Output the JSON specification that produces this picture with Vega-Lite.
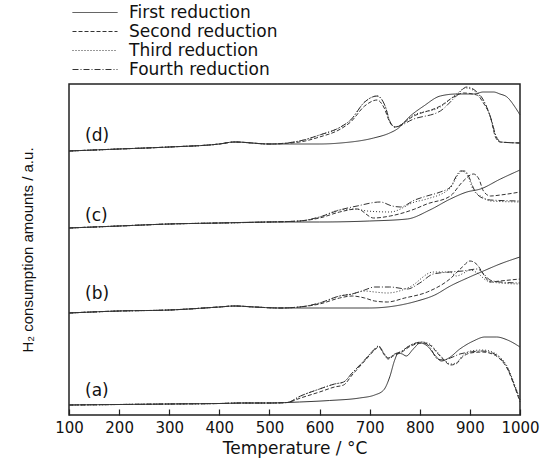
{
"$schema":"https://vega.github.io/schema/vega-lite/v6.json",
"width":451,"height":331,
"autosize":"none",
"padding":{"left":69,"top":84,"right":29,"bottom":44},
"config":{"view":{"stroke":"#222","strokeWidth":1.5},"font":"DejaVu Sans"},
"data":{"values":[
{"p":"a","s":"First","T":100,"v":10},{"p":"a","s":"First","T":200,"v":10.5},{"p":"a","s":"First","T":300,"v":11},{"p":"a","s":"First","T":400,"v":11.5},{"p":"a","s":"First","T":450,"v":12},{"p":"a","s":"First","T":500,"v":12},{"p":"a","s":"First","T":560,"v":13},{"p":"a","s":"First","T":620,"v":14.5},{"p":"a","s":"First","T":680,"v":17},{"p":"a","s":"First","T":710,"v":20},{"p":"a","s":"First","T":728,"v":25},{"p":"a","s":"First","T":740,"v":38},{"p":"a","s":"First","T":750,"v":55},{"p":"a","s":"First","T":757,"v":62},{"p":"a","s":"First","T":765,"v":61},{"p":"a","s":"First","T":773,"v":59},{"p":"a","s":"First","T":787,"v":66},{"p":"a","s":"First","T":801,"v":72},{"p":"a","s":"First","T":815,"v":69},{"p":"a","s":"First","T":830,"v":60},{"p":"a","s":"First","T":843,"v":54},{"p":"a","s":"First","T":858,"v":57},{"p":"a","s":"First","T":880,"v":66},{"p":"a","s":"First","T":907,"v":74},{"p":"a","s":"First","T":930,"v":78},{"p":"a","s":"First","T":953,"v":78},{"p":"a","s":"First","T":975,"v":75},{"p":"a","s":"First","T":1000,"v":68},
{"p":"a","s":"Second","T":100,"v":10},{"p":"a","s":"Second","T":200,"v":10.5},{"p":"a","s":"Second","T":300,"v":11},{"p":"a","s":"Second","T":400,"v":11.5},{"p":"a","s":"Second","T":450,"v":12},{"p":"a","s":"Second","T":500,"v":12},{"p":"a","s":"Second","T":535,"v":12.5},{"p":"a","s":"Second","T":562,"v":17},{"p":"a","s":"Second","T":600,"v":23},{"p":"a","s":"Second","T":630,"v":28},{"p":"a","s":"Second","T":648,"v":30},{"p":"a","s":"Second","T":665,"v":40},{"p":"a","s":"Second","T":690,"v":54},{"p":"a","s":"Second","T":708,"v":64},{"p":"a","s":"Second","T":718,"v":68},{"p":"a","s":"Second","T":728,"v":61},{"p":"a","s":"Second","T":737,"v":56},{"p":"a","s":"Second","T":750,"v":60},{"p":"a","s":"Second","T":761,"v":62},{"p":"a","s":"Second","T":782,"v":69},{"p":"a","s":"Second","T":805,"v":72},{"p":"a","s":"Second","T":820,"v":70},{"p":"a","s":"Second","T":835,"v":62},{"p":"a","s":"Second","T":848,"v":55},{"p":"a","s":"Second","T":861,"v":50},{"p":"a","s":"Second","T":872,"v":51},{"p":"a","s":"Second","T":885,"v":58},{"p":"a","s":"Second","T":901,"v":62},{"p":"a","s":"Second","T":925,"v":63},{"p":"a","s":"Second","T":945,"v":61},{"p":"a","s":"Second","T":960,"v":56},{"p":"a","s":"Second","T":975,"v":46},{"p":"a","s":"Second","T":988,"v":30},{"p":"a","s":"Second","T":1000,"v":13},
{"p":"a","s":"Third","T":100,"v":10},{"p":"a","s":"Third","T":200,"v":10.5},{"p":"a","s":"Third","T":300,"v":11},{"p":"a","s":"Third","T":400,"v":11.5},{"p":"a","s":"Third","T":450,"v":12},{"p":"a","s":"Third","T":500,"v":12},{"p":"a","s":"Third","T":535,"v":12.5},{"p":"a","s":"Third","T":562,"v":19},{"p":"a","s":"Third","T":600,"v":26},{"p":"a","s":"Third","T":630,"v":31},{"p":"a","s":"Third","T":648,"v":33},{"p":"a","s":"Third","T":665,"v":42},{"p":"a","s":"Third","T":690,"v":55},{"p":"a","s":"Third","T":708,"v":65},{"p":"a","s":"Third","T":718,"v":69},{"p":"a","s":"Third","T":728,"v":62},{"p":"a","s":"Third","T":737,"v":57},{"p":"a","s":"Third","T":750,"v":61},{"p":"a","s":"Third","T":761,"v":63},{"p":"a","s":"Third","T":782,"v":70},{"p":"a","s":"Third","T":805,"v":73},{"p":"a","s":"Third","T":820,"v":71},{"p":"a","s":"Third","T":835,"v":63},{"p":"a","s":"Third","T":848,"v":56},{"p":"a","s":"Third","T":861,"v":51},{"p":"a","s":"Third","T":872,"v":52},{"p":"a","s":"Third","T":885,"v":59},{"p":"a","s":"Third","T":901,"v":64},{"p":"a","s":"Third","T":925,"v":65},{"p":"a","s":"Third","T":945,"v":63},{"p":"a","s":"Third","T":960,"v":58},{"p":"a","s":"Third","T":975,"v":48},{"p":"a","s":"Third","T":988,"v":32},{"p":"a","s":"Third","T":1000,"v":15},
{"p":"a","s":"Fourth","T":100,"v":10},{"p":"a","s":"Fourth","T":200,"v":10.5},{"p":"a","s":"Fourth","T":300,"v":11},{"p":"a","s":"Fourth","T":400,"v":11.5},{"p":"a","s":"Fourth","T":450,"v":12},{"p":"a","s":"Fourth","T":500,"v":12},{"p":"a","s":"Fourth","T":535,"v":12.5},{"p":"a","s":"Fourth","T":562,"v":19},{"p":"a","s":"Fourth","T":600,"v":26},{"p":"a","s":"Fourth","T":630,"v":31},{"p":"a","s":"Fourth","T":648,"v":33},{"p":"a","s":"Fourth","T":665,"v":42},{"p":"a","s":"Fourth","T":690,"v":55},{"p":"a","s":"Fourth","T":708,"v":65},{"p":"a","s":"Fourth","T":718,"v":69},{"p":"a","s":"Fourth","T":728,"v":62},{"p":"a","s":"Fourth","T":737,"v":57},{"p":"a","s":"Fourth","T":750,"v":61},{"p":"a","s":"Fourth","T":761,"v":63},{"p":"a","s":"Fourth","T":782,"v":70},{"p":"a","s":"Fourth","T":805,"v":73},{"p":"a","s":"Fourth","T":820,"v":68},{"p":"a","s":"Fourth","T":835,"v":56},{"p":"a","s":"Fourth","T":848,"v":55},{"p":"a","s":"Fourth","T":861,"v":57},{"p":"a","s":"Fourth","T":880,"v":61},{"p":"a","s":"Fourth","T":901,"v":63},{"p":"a","s":"Fourth","T":925,"v":64},{"p":"a","s":"Fourth","T":945,"v":62},{"p":"a","s":"Fourth","T":960,"v":57},{"p":"a","s":"Fourth","T":975,"v":47},{"p":"a","s":"Fourth","T":988,"v":31},{"p":"a","s":"Fourth","T":1000,"v":15},
{"p":"b","s":"First","T":100,"v":102},{"p":"b","s":"First","T":200,"v":104},{"p":"b","s":"First","T":300,"v":105},{"p":"b","s":"First","T":400,"v":108},{"p":"b","s":"First","T":430,"v":109},{"p":"b","s":"First","T":470,"v":108},{"p":"b","s":"First","T":520,"v":107},{"p":"b","s":"First","T":600,"v":107},{"p":"b","s":"First","T":700,"v":107},{"p":"b","s":"First","T":750,"v":109},{"p":"b","s":"First","T":795,"v":114},{"p":"b","s":"First","T":830,"v":120},{"p":"b","s":"First","T":861,"v":129},{"p":"b","s":"First","T":895,"v":137},{"p":"b","s":"First","T":927,"v":144},{"p":"b","s":"First","T":960,"v":151},{"p":"b","s":"First","T":1000,"v":158},
{"p":"b","s":"Second","T":100,"v":102},{"p":"b","s":"Second","T":200,"v":104},{"p":"b","s":"Second","T":300,"v":105},{"p":"b","s":"Second","T":400,"v":108},{"p":"b","s":"Second","T":430,"v":109},{"p":"b","s":"Second","T":470,"v":108},{"p":"b","s":"Second","T":520,"v":107},{"p":"b","s":"Second","T":560,"v":108},{"p":"b","s":"Second","T":600,"v":111},{"p":"b","s":"Second","T":640,"v":117},{"p":"b","s":"Second","T":665,"v":119},{"p":"b","s":"Second","T":690,"v":117},{"p":"b","s":"Second","T":710,"v":114},{"p":"b","s":"Second","T":735,"v":113},{"p":"b","s":"Second","T":770,"v":117},{"p":"b","s":"Second","T":815,"v":123},{"p":"b","s":"Second","T":860,"v":136},{"p":"b","s":"Second","T":885,"v":148},{"p":"b","s":"Second","T":900,"v":154},{"p":"b","s":"Second","T":915,"v":150},{"p":"b","s":"Second","T":928,"v":140},{"p":"b","s":"Second","T":940,"v":133},{"p":"b","s":"Second","T":960,"v":134},{"p":"b","s":"Second","T":1000,"v":136},
{"p":"b","s":"Third","T":100,"v":102},{"p":"b","s":"Third","T":200,"v":104},{"p":"b","s":"Third","T":300,"v":105},{"p":"b","s":"Third","T":400,"v":108},{"p":"b","s":"Third","T":430,"v":109},{"p":"b","s":"Third","T":470,"v":108},{"p":"b","s":"Third","T":520,"v":107},{"p":"b","s":"Third","T":560,"v":108},{"p":"b","s":"Third","T":600,"v":112},{"p":"b","s":"Third","T":640,"v":119},{"p":"b","s":"Third","T":665,"v":121},{"p":"b","s":"Third","T":690,"v":124},{"p":"b","s":"Third","T":710,"v":123},{"p":"b","s":"Third","T":735,"v":122},{"p":"b","s":"Third","T":780,"v":128},{"p":"b","s":"Third","T":827,"v":143},{"p":"b","s":"Third","T":860,"v":143},{"p":"b","s":"Third","T":873,"v":139},{"p":"b","s":"Third","T":888,"v":142},{"p":"b","s":"Third","T":900,"v":145},{"p":"b","s":"Third","T":915,"v":142},{"p":"b","s":"Third","T":935,"v":134},{"p":"b","s":"Third","T":960,"v":132},{"p":"b","s":"Third","T":1000,"v":131},
{"p":"b","s":"Fourth","T":100,"v":102},{"p":"b","s":"Fourth","T":200,"v":104},{"p":"b","s":"Fourth","T":300,"v":105},{"p":"b","s":"Fourth","T":400,"v":108},{"p":"b","s":"Fourth","T":430,"v":109},{"p":"b","s":"Fourth","T":470,"v":108},{"p":"b","s":"Fourth","T":520,"v":107},{"p":"b","s":"Fourth","T":560,"v":108},{"p":"b","s":"Fourth","T":600,"v":112},{"p":"b","s":"Fourth","T":640,"v":119},{"p":"b","s":"Fourth","T":665,"v":121},{"p":"b","s":"Fourth","T":690,"v":125},{"p":"b","s":"Fourth","T":710,"v":128},{"p":"b","s":"Fourth","T":740,"v":128},{"p":"b","s":"Fourth","T":775,"v":126},{"p":"b","s":"Fourth","T":800,"v":132},{"p":"b","s":"Fourth","T":827,"v":141},{"p":"b","s":"Fourth","T":860,"v":143},{"p":"b","s":"Fourth","T":886,"v":144},{"p":"b","s":"Fourth","T":915,"v":146},{"p":"b","s":"Fourth","T":928,"v":141},{"p":"b","s":"Fourth","T":940,"v":135},{"p":"b","s":"Fourth","T":960,"v":133},{"p":"b","s":"Fourth","T":1000,"v":132},
{"p":"c","s":"First","T":100,"v":187},{"p":"c","s":"First","T":200,"v":189},{"p":"c","s":"First","T":300,"v":191},{"p":"c","s":"First","T":400,"v":192},{"p":"c","s":"First","T":500,"v":193},{"p":"c","s":"First","T":600,"v":193},{"p":"c","s":"First","T":700,"v":194},{"p":"c","s":"First","T":775,"v":196},{"p":"c","s":"First","T":820,"v":205},{"p":"c","s":"First","T":861,"v":216},{"p":"c","s":"First","T":894,"v":223},{"p":"c","s":"First","T":921,"v":226},{"p":"c","s":"First","T":961,"v":236},{"p":"c","s":"First","T":1000,"v":245},
{"p":"c","s":"Second","T":100,"v":187},{"p":"c","s":"Second","T":200,"v":189},{"p":"c","s":"Second","T":300,"v":191},{"p":"c","s":"Second","T":400,"v":192},{"p":"c","s":"Second","T":500,"v":193},{"p":"c","s":"Second","T":560,"v":194},{"p":"c","s":"Second","T":600,"v":197},{"p":"c","s":"Second","T":640,"v":203},{"p":"c","s":"Second","T":675,"v":206},{"p":"c","s":"Second","T":708,"v":197},{"p":"c","s":"Second","T":741,"v":199},{"p":"c","s":"Second","T":790,"v":206},{"p":"c","s":"Second","T":814,"v":211},{"p":"c","s":"Second","T":861,"v":219},{"p":"c","s":"Second","T":885,"v":233},{"p":"c","s":"Second","T":907,"v":241},{"p":"c","s":"Second","T":918,"v":236},{"p":"c","s":"Second","T":927,"v":224},{"p":"c","s":"Second","T":941,"v":219},{"p":"c","s":"Second","T":961,"v":220},{"p":"c","s":"Second","T":1000,"v":223},
{"p":"c","s":"Third","T":100,"v":187},{"p":"c","s":"Third","T":200,"v":189},{"p":"c","s":"Third","T":300,"v":191},{"p":"c","s":"Third","T":400,"v":192},{"p":"c","s":"Third","T":500,"v":193},{"p":"c","s":"Third","T":560,"v":194},{"p":"c","s":"Third","T":600,"v":198},{"p":"c","s":"Third","T":640,"v":205},{"p":"c","s":"Third","T":670,"v":206},{"p":"c","s":"Third","T":695,"v":204},{"p":"c","s":"Third","T":741,"v":203},{"p":"c","s":"Third","T":790,"v":213},{"p":"c","s":"Third","T":814,"v":216},{"p":"c","s":"Third","T":861,"v":227},{"p":"c","s":"Third","T":876,"v":240},{"p":"c","s":"Third","T":884,"v":244},{"p":"c","s":"Third","T":895,"v":240},{"p":"c","s":"Third","T":907,"v":225},{"p":"c","s":"Third","T":925,"v":218},{"p":"c","s":"Third","T":941,"v":214},{"p":"c","s":"Third","T":1000,"v":213},
{"p":"c","s":"Fourth","T":100,"v":187},{"p":"c","s":"Fourth","T":200,"v":189},{"p":"c","s":"Fourth","T":300,"v":191},{"p":"c","s":"Fourth","T":400,"v":192},{"p":"c","s":"Fourth","T":500,"v":193},{"p":"c","s":"Fourth","T":560,"v":194},{"p":"c","s":"Fourth","T":600,"v":198},{"p":"c","s":"Fourth","T":640,"v":205},{"p":"c","s":"Fourth","T":675,"v":209},{"p":"c","s":"Fourth","T":721,"v":213},{"p":"c","s":"Fourth","T":745,"v":209},{"p":"c","s":"Fourth","T":761,"v":208},{"p":"c","s":"Fourth","T":790,"v":215},{"p":"c","s":"Fourth","T":814,"v":219},{"p":"c","s":"Fourth","T":841,"v":223},{"p":"c","s":"Fourth","T":861,"v":228},{"p":"c","s":"Fourth","T":872,"v":238},{"p":"c","s":"Fourth","T":881,"v":244},{"p":"c","s":"Fourth","T":890,"v":244},{"p":"c","s":"Fourth","T":900,"v":236},{"p":"c","s":"Fourth","T":907,"v":227},{"p":"c","s":"Fourth","T":921,"v":218},{"p":"c","s":"Fourth","T":941,"v":215},{"p":"c","s":"Fourth","T":1000,"v":214},
{"p":"d","s":"First","T":100,"v":264},{"p":"d","s":"First","T":200,"v":266},{"p":"d","s":"First","T":300,"v":268},{"p":"d","s":"First","T":400,"v":271},{"p":"d","s":"First","T":430,"v":273},{"p":"d","s":"First","T":500,"v":271},{"p":"d","s":"First","T":600,"v":271},{"p":"d","s":"First","T":642,"v":272},{"p":"d","s":"First","T":708,"v":277},{"p":"d","s":"First","T":740,"v":282},{"p":"d","s":"First","T":755,"v":286},{"p":"d","s":"First","T":781,"v":299},{"p":"d","s":"First","T":808,"v":309},{"p":"d","s":"First","T":841,"v":319},{"p":"d","s":"First","T":874,"v":321},{"p":"d","s":"First","T":907,"v":321},{"p":"d","s":"First","T":927,"v":323},{"p":"d","s":"First","T":947,"v":323},{"p":"d","s":"First","T":960,"v":321},{"p":"d","s":"First","T":974,"v":318},{"p":"d","s":"First","T":990,"v":308},{"p":"d","s":"First","T":1000,"v":300},
{"p":"d","s":"Second","T":100,"v":264},{"p":"d","s":"Second","T":200,"v":266},{"p":"d","s":"Second","T":300,"v":268},{"p":"d","s":"Second","T":400,"v":271},{"p":"d","s":"Second","T":430,"v":273},{"p":"d","s":"Second","T":500,"v":271},{"p":"d","s":"Second","T":560,"v":273},{"p":"d","s":"Second","T":600,"v":278},{"p":"d","s":"Second","T":642,"v":286},{"p":"d","s":"Second","T":662,"v":293},{"p":"d","s":"Second","T":690,"v":309},{"p":"d","s":"Second","T":715,"v":315},{"p":"d","s":"Second","T":728,"v":308},{"p":"d","s":"Second","T":741,"v":292},{"p":"d","s":"Second","T":750,"v":288},{"p":"d","s":"Second","T":788,"v":299},{"p":"d","s":"Second","T":841,"v":309},{"p":"d","s":"Second","T":871,"v":319},{"p":"d","s":"Second","T":887,"v":322},{"p":"d","s":"Second","T":914,"v":320},{"p":"d","s":"Second","T":927,"v":312},{"p":"d","s":"Second","T":941,"v":298},{"p":"d","s":"Second","T":951,"v":278},{"p":"d","s":"Second","T":960,"v":273},{"p":"d","s":"Second","T":1000,"v":272},
{"p":"d","s":"Third","T":100,"v":264},{"p":"d","s":"Third","T":200,"v":266},{"p":"d","s":"Third","T":300,"v":268},{"p":"d","s":"Third","T":400,"v":271},{"p":"d","s":"Third","T":430,"v":273},{"p":"d","s":"Third","T":500,"v":271},{"p":"d","s":"Third","T":560,"v":274},{"p":"d","s":"Third","T":600,"v":280},{"p":"d","s":"Third","T":642,"v":288},{"p":"d","s":"Third","T":662,"v":295},{"p":"d","s":"Third","T":690,"v":313},{"p":"d","s":"Third","T":715,"v":319},{"p":"d","s":"Third","T":730,"v":310},{"p":"d","s":"Third","T":741,"v":293},{"p":"d","s":"Third","T":750,"v":288},{"p":"d","s":"Third","T":788,"v":300},{"p":"d","s":"Third","T":841,"v":308},{"p":"d","s":"Third","T":871,"v":320},{"p":"d","s":"Third","T":892,"v":327},{"p":"d","s":"Third","T":914,"v":322},{"p":"d","s":"Third","T":927,"v":314},{"p":"d","s":"Third","T":941,"v":298},{"p":"d","s":"Third","T":953,"v":278},{"p":"d","s":"Third","T":962,"v":273},{"p":"d","s":"Third","T":1000,"v":272},
{"p":"d","s":"Fourth","T":100,"v":264},{"p":"d","s":"Fourth","T":200,"v":266},{"p":"d","s":"Fourth","T":300,"v":268},{"p":"d","s":"Fourth","T":400,"v":271},{"p":"d","s":"Fourth","T":430,"v":273},{"p":"d","s":"Fourth","T":500,"v":271},{"p":"d","s":"Fourth","T":560,"v":274},{"p":"d","s":"Fourth","T":600,"v":280},{"p":"d","s":"Fourth","T":642,"v":288},{"p":"d","s":"Fourth","T":662,"v":295},{"p":"d","s":"Fourth","T":690,"v":313},{"p":"d","s":"Fourth","T":715,"v":319},{"p":"d","s":"Fourth","T":730,"v":310},{"p":"d","s":"Fourth","T":741,"v":293},{"p":"d","s":"Fourth","T":750,"v":288},{"p":"d","s":"Fourth","T":788,"v":296},{"p":"d","s":"Fourth","T":841,"v":304},{"p":"d","s":"Fourth","T":871,"v":318},{"p":"d","s":"Fourth","T":894,"v":328},{"p":"d","s":"Fourth","T":914,"v":323},{"p":"d","s":"Fourth","T":927,"v":315},{"p":"d","s":"Fourth","T":941,"v":298},{"p":"d","s":"Fourth","T":953,"v":278},{"p":"d","s":"Fourth","T":962,"v":273},{"p":"d","s":"Fourth","T":1000,"v":272}
]},
"layer":[
{"mark":{"type":"line","interpolate":"monotone","strokeWidth":1,"color":"#333"},
 "encoding":{
  "x":{"field":"T","type":"quantitative","scale":{"domain":[100,1000],"nice":false},
   "axis":{"values":[100,150,200,250,300,350,400,450,500,550,600,650,700,750,800,850,900,950,1000],
    "format":"d",
    "tickSize":{"condition":{"test":"datum.value % 100 === 0","value":-6},"value":-3},
    "labelExpr":"datum.value % 100 === 0 ? datum.label : ''",
    "labelFlush":false,"labelOverlap":false,"domain":false,"grid":false,"tickColor":"#222","tickWidth":1.2,
    "labelFontSize":15,"labelColor":"#111","labelPadding":11,
    "title":"Temperature / °C","titleFontSize":17,"titleFontWeight":"normal","titleColor":"#111","titlePadding":5}},
  "y":{"field":"v","type":"quantitative","scale":{"domain":[0,331],"nice":false},
   "axis":{"title":"H₂ consumption amounts / a.u.","titleFont":"Liberation Sans","titleFontSize":15,"titleFontWeight":"normal","titleColor":"#111",
    "labels":false,"ticks":false,"domain":false,"grid":false,"titlePadding":34}},
  "strokeDash":{"field":"s","type":"nominal",
   "scale":{"domain":["First","Second","Third","Fourth"],"range":[[1,0],[4,2],[1,2],[6,2,1,2]]},
   "legend":{"orient":"none","legendX":3,"legendY":-81,"title":null,
    "symbolType":"M-1,0L4,0","symbolSize":324,"symbolStrokeWidth":1,"symbolStrokeColor":"#333","symbolFillColor":"transparent",
    "labelFontSize":17,"labelColor":"#111","labelOffset":38,"rowPadding":1,
    "labelExpr":"datum.label + ' reduction'"}},
  "detail":{"field":"p"}
 }},
{"data":{"values":[{"T":132,"v":24,"label":"(a)"},{"T":132,"v":121,"label":"(b)"},{"T":132,"v":199,"label":"(c)"},{"T":132,"v":279,"label":"(d)"}]},
 "mark":{"type":"text","align":"left","baseline":"middle","fontSize":17,"color":"#111"},
 "encoding":{"x":{"field":"T","type":"quantitative"},"y":{"field":"v","type":"quantitative"},"text":{"field":"label"}}}
]
}
